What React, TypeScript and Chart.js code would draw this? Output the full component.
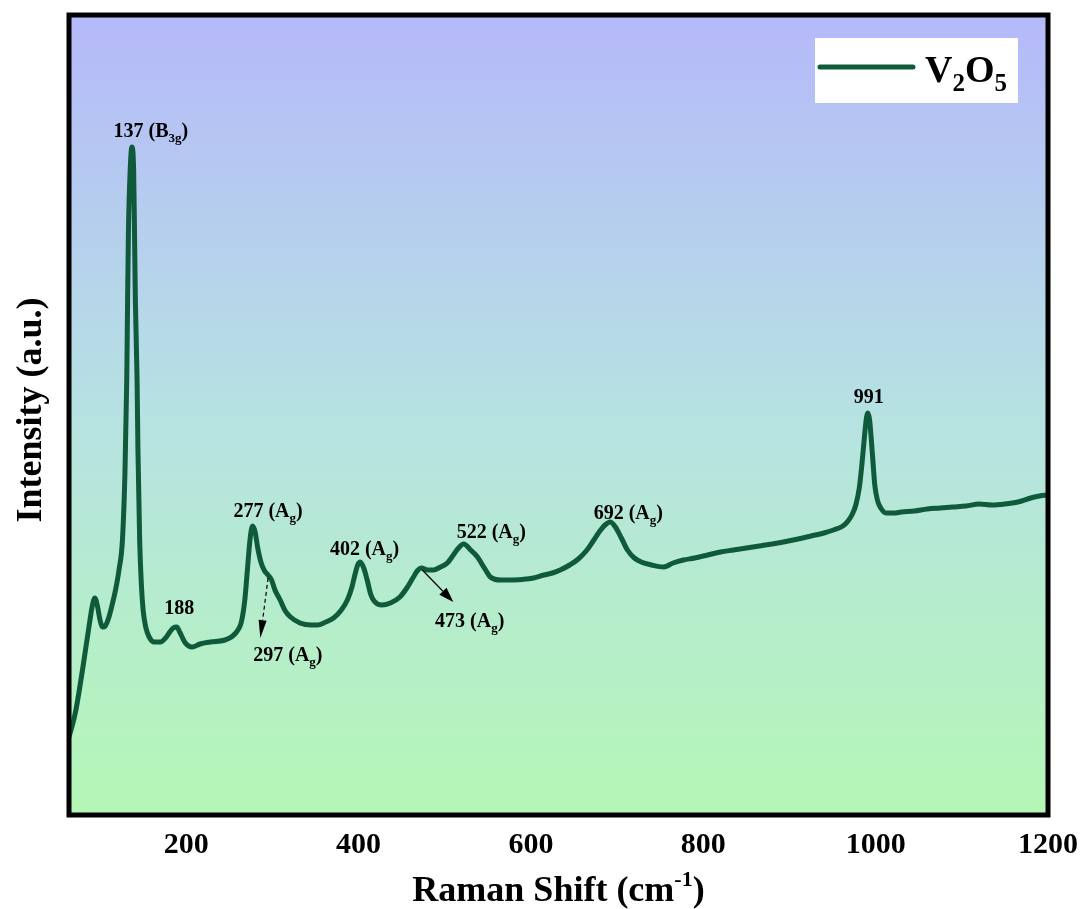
import React, { useEffect, useRef } from "react";
import { Chart, registerables } from "chart.js";

Chart.register(...registerables);

const ramanShift = [
  64, 68, 72, 76, 80, 84, 88, 91, 94, 97, 100, 103, 106, 110, 114, 118, 122, 126, 129, 131, 132, 133, 135, 137, 139, 140, 141, 143, 144, 146, 148, 150, 153, 157, 163, 170, 176, 181, 185, 189, 193, 199, 207, 216, 228, 245, 254, 260, 264, 268, 271, 274, 277, 280, 283, 287, 291, 295, 299, 303, 309, 315, 321, 332, 345, 352, 362, 371, 380, 387, 392, 396, 399, 402, 406, 410, 414, 418, 427, 437, 448, 456, 463, 468, 473, 480, 487, 495, 503, 510, 516, 522, 530, 538, 546, 553, 565, 580, 595, 603, 615, 625, 634, 645, 655, 665, 673, 680, 686, 692, 698, 705, 712, 720, 728, 740, 754, 765, 777, 790, 805, 820, 835, 850, 865, 880, 893, 910, 925, 940, 951, 962, 968, 973, 977, 981, 984, 987, 989, 991, 993, 995, 997, 999, 1002, 1006, 1012, 1021, 1030, 1045, 1060, 1075, 1090, 1105, 1120, 1135, 1150, 1165, 1180, 1190, 1200,
];
const intensity = [
  78, 90, 105, 125, 147, 170, 193, 209, 217, 209, 195, 188, 189, 197, 210, 225, 245, 275, 345, 435, 515, 585, 645, 668, 645, 585, 515, 435, 365, 275, 230, 205, 188, 178, 173, 173, 177, 183, 187, 188, 182, 172, 168, 171, 173, 175, 179, 185, 193, 215, 245, 275, 289, 283, 267, 252, 244, 240, 235, 225, 215, 204, 198, 192, 190, 190, 193, 197, 205, 215, 227, 241, 250, 253, 247, 235, 221, 214, 210, 212, 218, 227, 237, 244, 247, 245, 245, 248, 252, 260, 267, 271, 265, 258, 247, 238, 235, 235, 236, 237, 240, 242, 245, 250, 256, 265, 275, 284, 290, 293, 288, 277, 265, 257, 253, 250, 248, 252, 255, 257, 260, 263, 265, 267, 269, 271, 273, 276, 279, 282, 285, 289, 294, 301, 310, 327, 350, 378, 395, 402, 395, 375, 352, 330, 315, 307, 302, 302, 303, 304, 306, 307, 308, 309, 311, 310, 311, 313, 317, 319, 320,
];
const xTickValues = [200, 400, 600, 800, 1000, 1200];
const seriesName = ["V", "2", "O", "5"];

// peak labels: [main text, subscript, closing text, anchor x (cm-1), anchor intensity]
const peakLabels: [string, string, string, number, number][] = [
  ["137 (B", "3g", ")", 159, 685],
  ["188", "", "", 192, 208],
  ["277 (A", "g", ")", 295, 305],
  ["297 (A", "g", ")", 318, 161],
  ["402 (A", "g", ")", 407, 267],
  ["473 (A", "g", ")", 529, 195],
  ["522 (A", "g", ")", 554, 284],
  ["692 (A", "g", ")", 713, 303],
  ["991", "", "", 992, 419],
];
// arrows: [x1, y1, x2, y2, dashed]
const arrows: [number, number, number, number, boolean][] = [
  [295, 237, 286, 177, true],
  [474, 245, 510, 213, false],
];

const FONT = '"Liberation Serif", "Times New Roman", serif';
const LINE_COLOR = "#0e5a3b";

export default function App() {
  const ref = useRef<HTMLCanvasElement>(null);

  useEffect(() => {
    const canvas = ref.current!;
    const decor = {
      id: "decor",
      beforeDatasetsDraw(chart: any) {
        const { ctx, chartArea: a } = chart;
        ctx.save();
        const g = ctx.createLinearGradient(0, a.top, 0, a.bottom);
        g.addColorStop(0, "#b5b9fa");
        g.addColorStop(0.5, "#b6e2e2");
        g.addColorStop(1, "#b5f7b6");
        ctx.fillStyle = g;
        ctx.fillRect(a.left, a.top, a.right - a.left, a.bottom - a.top);
        ctx.restore();
      },
      afterDatasetsDraw(chart: any) {
        const { ctx, chartArea: a, scales } = chart;
        const xs = scales.x;
        const ys = scales.y;
        ctx.save();
        // frame
        ctx.strokeStyle = "#000";
        ctx.lineWidth = 5;
        ctx.strokeRect(a.left, a.top, a.right - a.left, a.bottom - a.top);

        // peak labels
        ctx.fillStyle = "#000";
        ctx.textBaseline = "alphabetic";
        ctx.textAlign = "left";
        for (const [m, s, c, px, py] of peakLabels) {
          const cx = xs.getPixelForValue(px);
          const cy = ys.getPixelForValue(py);
          ctx.font = `bold 20px ${FONT}`;
          const wm = ctx.measureText(m).width;
          const wc = c ? ctx.measureText(c).width : 0;
          ctx.font = `bold 13px ${FONT}`;
          const ws = s ? ctx.measureText(s).width : 0;
          let x = cx - (wm + ws + wc) / 2;
          const base = cy + 7;
          ctx.font = `bold 20px ${FONT}`;
          ctx.fillText(m, x, base);
          x += wm;
          if (s) {
            ctx.font = `bold 13px ${FONT}`;
            ctx.fillText(s, x, base + 5);
            x += ws;
          }
          if (c) {
            ctx.font = `bold 20px ${FONT}`;
            ctx.fillText(c, x, base);
          }
        }

        // arrows
        for (const [x1v, y1v, x2v, y2v, dashed] of arrows) {
          const x1 = xs.getPixelForValue(x1v);
          const y1 = ys.getPixelForValue(y1v);
          const x2 = xs.getPixelForValue(x2v);
          const y2 = ys.getPixelForValue(y2v);
          const ang = Math.atan2(y2 - y1, x2 - x1);
          const hl = dashed ? 18 : 15;
          const hw = dashed ? 4 : 5;
          const bx = x2 - hl * Math.cos(ang);
          const by = y2 - hl * Math.sin(ang);
          ctx.strokeStyle = "#000";
          ctx.lineWidth = 1.2;
          ctx.setLineDash(dashed ? [4, 3] : []);
          ctx.beginPath();
          ctx.moveTo(x1, y1);
          ctx.lineTo(bx, by);
          ctx.stroke();
          ctx.setLineDash([]);
          ctx.beginPath();
          ctx.moveTo(x2, y2);
          ctx.lineTo(bx + hw * Math.sin(ang), by - hw * Math.cos(ang));
          ctx.lineTo(bx - hw * Math.sin(ang), by + hw * Math.cos(ang));
          ctx.closePath();
          ctx.fill();
        }

        // legend
        ctx.fillStyle = "#fff";
        ctx.fillRect(815, 38, 203, 65);
        ctx.strokeStyle = LINE_COLOR;
        ctx.lineWidth = 5;
        ctx.lineCap = "round";
        ctx.beginPath();
        ctx.moveTo(820, 67);
        ctx.lineTo(913, 67);
        ctx.stroke();
        ctx.fillStyle = "#000";
        let lx = 925;
        seriesName.forEach((t, i) => {
          const sub = i % 2 === 1;
          ctx.font = sub ? `bold 25px ${FONT}` : `bold 38px ${FONT}`;
          ctx.fillText(t, lx, sub ? 91 : 82);
          lx += ctx.measureText(t).width;
        });

        // axis titles
        ctx.font = `bold 36px ${FONT}`;
        const t1 = "Raman Shift (cm";
        const t2 = "-1";
        const t3 = ")";
        const w1 = ctx.measureText(t1).width;
        const w3 = ctx.measureText(t3).width;
        ctx.font = `bold 22px ${FONT}`;
        const w2 = ctx.measureText(t2).width;
        let tx = (a.left + a.right) / 2 - (w1 + w2 + w3) / 2;
        const tb = 901;
        ctx.font = `bold 36px ${FONT}`;
        ctx.fillText(t1, tx, tb);
        tx += w1;
        ctx.font = `bold 22px ${FONT}`;
        ctx.fillText(t2, tx, tb - 15);
        tx += w2;
        ctx.font = `bold 36px ${FONT}`;
        ctx.fillText(t3, tx, tb);

        ctx.translate(41, 410);
        ctx.rotate(-Math.PI / 2);
        ctx.textAlign = "center";
        ctx.fillText("Intensity (a.u.)", 0, 0);
        ctx.restore();
      },
    };

    const chart = new Chart(canvas, {
      type: "line",
      data: {
        datasets: [
          {
            label: "V2O5",
            data: ramanShift.map((x, i) => ({ x, y: intensity[i] })),
            borderColor: LINE_COLOR,
            borderWidth: 5,
            pointRadius: 0,
            cubicInterpolationMode: "monotone",
            fill: false,
          },
        ],
      },
      options: {
        responsive: false,
        animation: false,
        layout: { padding: { top: 15, left: 69, right: 34, bottom: 0 } },
        plugins: { legend: { display: false }, tooltip: { enabled: false } },
        scales: {
          x: {
            type: "linear",
            min: 64,
            max: 1200,
            grid: { display: false, drawTicks: false },
            border: { display: false },
            afterBuildTicks: (s: any) => {
              s.ticks = xTickValues.map((v) => ({ value: v }));
            },
            afterFit: (s: any) => {
              s.height = 94;
              s.paddingLeft = 0;
              s.paddingRight = 0;
            },
            ticks: {
              autoSkip: false,
              maxRotation: 0,
              padding: 12,
              color: "#000",
              font: { family: FONT, size: 30, weight: "bold" },
              callback: (v: any) => String(v),
            },
          },
          y: { display: false, min: 0, max: 800 },
        },
      },
      plugins: [decor],
    } as any);
    return () => chart.destroy();
  }, []);

  return (
    <div style={{ position: "absolute", left: 0, top: 0, width: 1082, height: 909, background: "#fff" }}>
      <canvas ref={ref} width={1082} height={909} style={{ display: "block" }} />
    </div>
  );
}
